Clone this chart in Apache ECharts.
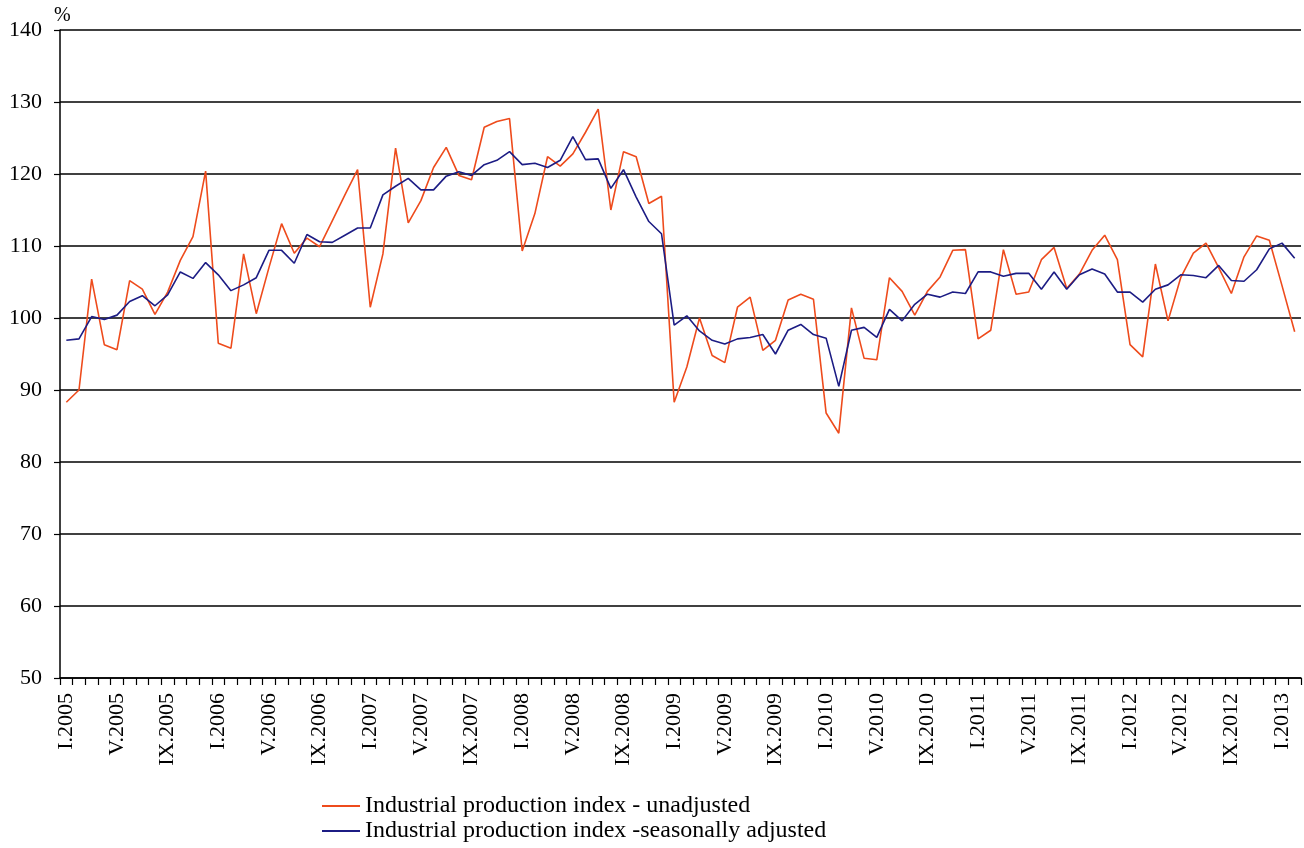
<!DOCTYPE html>
<html>
<head>
<meta charset="utf-8">
<script src="https://cdn.jsdelivr.net/npm/echarts@6/dist/echarts.min.js"></script>
<style>
  html, body { margin: 0; padding: 0; background: #fff; }
  #chart { width: 1304px; height: 848px; }
</style>
</head>
<body>
<div id="chart"></div>
<script>
// months I.2005 .. II.2013
const roman = ['I', 'II', 'III', 'IV', 'V', 'VI', 'VII', 'VIII', 'IX', 'X', 'XI', 'XII'];
const months = [];
for (let y = 2005; y <= 2013; y++) {
  for (let m = 0; m < 12; m++) {
    if (y === 2013 && m > 1) break;
    months.push(roman[m] + '.' + y);
  }
}

const unadjusted = [
  88.3, 90.0, 105.4, 96.3, 95.6, 105.2, 104.0, 100.5, 103.6, 108.0, 111.3, 120.4,
  96.5, 95.8, 108.9, 100.6, 107.0, 113.1, 109.0, 111.1, 109.9, 113.5, 117.1, 120.6,
  101.5, 108.9, 123.6, 113.2, 116.3, 120.9, 123.7, 119.8, 119.2, 126.5, 127.3, 127.7,
  109.3, 114.5, 122.4, 121.1, 122.8, 125.8, 129.0, 115.0, 123.1, 122.4, 115.9, 116.9,
  88.3, 93.2, 100.0, 94.8, 93.8, 101.5, 102.9, 95.5, 96.9, 102.5, 103.3, 102.6,
  86.8, 84.0, 101.4, 94.4, 94.2, 105.6, 103.7, 100.4, 103.7, 105.7, 109.4, 109.5,
  97.1, 98.3, 109.5, 103.3, 103.6, 108.1, 109.8, 104.1, 106.1, 109.4, 111.5, 108.1,
  96.3, 94.6, 107.5, 99.6, 105.6, 109.0, 110.4, 107.0, 103.4, 108.5, 111.4, 110.8,
  104.5, 98.1
];

const adjusted = [
  96.9, 97.1, 100.2, 99.8, 100.4, 102.3, 103.1, 101.7, 103.2, 106.4, 105.5, 107.7,
  106.0, 103.8, 104.6, 105.6, 109.4, 109.4, 107.6, 111.6, 110.6, 110.5, 111.5, 112.5,
  112.5, 117.1, 118.3, 119.4, 117.8, 117.8, 119.7, 120.3, 119.8, 121.3, 121.9, 123.1,
  121.3, 121.5, 120.9, 121.9, 125.2, 122.0, 122.1, 118.0, 120.6, 116.8, 113.4, 111.7,
  99.0, 100.3, 98.2, 96.9, 96.4, 97.1, 97.3, 97.7, 95.0, 98.3, 99.1, 97.7,
  97.2, 90.5, 98.3, 98.7, 97.3, 101.2, 99.6, 101.9, 103.3, 102.9, 103.6, 103.4,
  106.4, 106.4, 105.8, 106.2, 106.2, 104.0, 106.4, 104.0, 106.0, 106.8, 106.1, 103.6,
  103.6, 102.2, 104.0, 104.6, 106.0, 105.9, 105.6, 107.3, 105.2, 105.1, 106.7, 109.6,
  110.4, 108.3
];

const seriesNames = [
  'Industrial production index - unadjusted',
  'Industrial production index -seasonally adjusted'
];

const font = '"Liberation Serif", "DejaVu Serif", serif';

const chart = echarts.init(document.getElementById('chart'), null, { renderer: 'canvas' });

// one legend per row so they stack like the original
function legendRow(name, top) {
  return {
    left: 322,
    top: top,
    itemWidth: 38,
    itemHeight: 2,
    icon: 'rect',
    padding: 0,
    textStyle: { fontFamily: font, fontSize: 24, color: '#000' },
    data: [name]
  };
}

const option = {
  animation: false,
  backgroundColor: '#fff',
  textStyle: { fontFamily: font, color: '#000' },
  grid: { left: 60, top: 30, right: 3, bottom: 170, containLabel: false },
  legend: [
    legendRow(seriesNames[0], 794),
    legendRow(seriesNames[1], 819)
  ],
  xAxis: {
    type: 'category',
    data: months,
    boundaryGap: true,
    axisLine: { lineStyle: { color: '#000', width: 1.5 } },
    axisTick: { show: true, interval: 0, length: 7, lineStyle: { color: '#000', width: 1.2 } },
    axisLabel: {
      interval: 3,
      rotate: 90,
      fontFamily: font,
      fontSize: 22,
      color: '#000',
      margin: 15
    },
    splitLine: { show: false }
  },
  yAxis: {
    type: 'value',
    min: 50,
    max: 140,
    interval: 10,
    name: '%',
    nameLocation: 'end',
    nameGap: 4,
    nameTextStyle: { fontFamily: font, fontSize: 20, color: '#000', align: 'left', verticalAlign: 'bottom', padding: [0, 0, 0, -6] },
    axisLine: { show: true, lineStyle: { color: '#000', width: 1.5 } },
    axisTick: { show: true, length: 6, lineStyle: { color: '#000', width: 1.2 } },
    axisLabel: { fontFamily: font, fontSize: 22, color: '#000', margin: 18 },
    splitLine: { show: true, lineStyle: { color: '#000', width: 1.5 } }
  },
  series: [
    {
      name: seriesNames[0],
      type: 'line',
      data: unadjusted,
      symbol: 'none',
      lineStyle: { color: '#EE4B1C', width: 1.6 },
      itemStyle: { color: '#EE4B1C' },
      z: 2
    },
    {
      name: seriesNames[1],
      type: 'line',
      data: adjusted,
      symbol: 'none',
      lineStyle: { color: '#1C1C84', width: 1.6 },
      itemStyle: { color: '#1C1C84' },
      z: 3
    }
  ]
};

chart.setOption(option);
</script>
</body>
</html>
